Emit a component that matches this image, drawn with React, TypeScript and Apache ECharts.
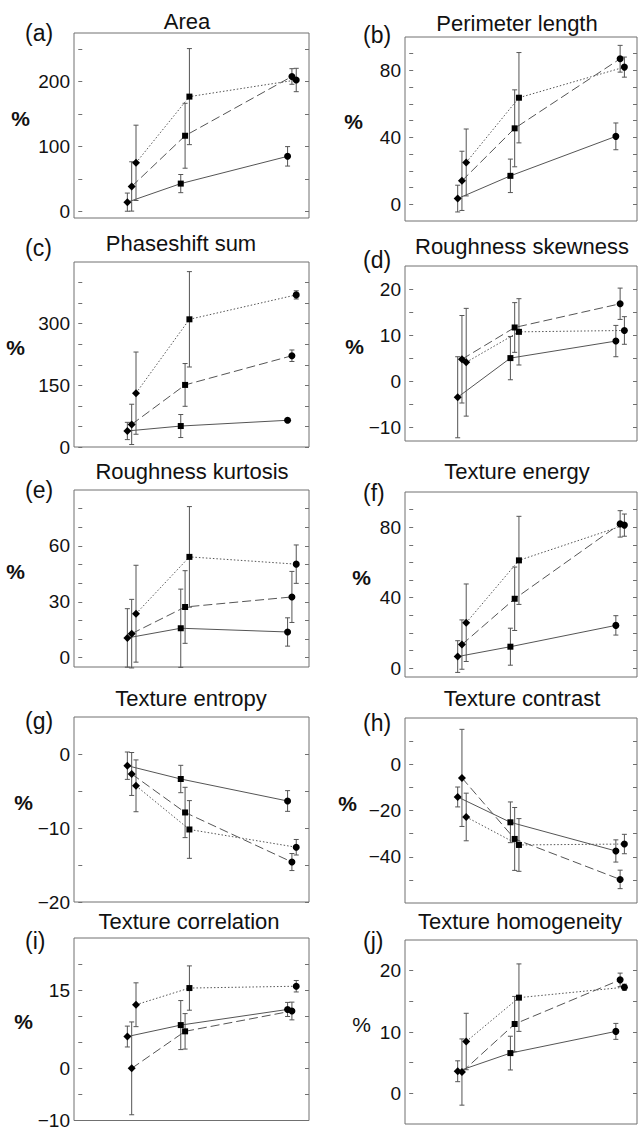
import React, { useEffect, useRef } from "react";
import * as echarts from "echarts";

// ---------- data ----------
// x positions: three time points; each series slightly offset
const groupX = [1, 2, 4];
const seriesOffset = [-0.081, 0, 0.081];

// mean[series][group], err[series][group]  (series: solid, dashed, dotted)
const areaMean = [[14.4, 43, 85], [38.6, 116.7, 208], [75, 177, 202.6]];
const areaErr = [[14, 14, 15], [38, 50, 12], [58, 74, 18]];
const areaLabels = [0, 100, 200];
const areaTicks = [0, 50, 100, 150, 200, 250];

const perimeterMean = [[3.4, 17, 40.6], [14, 45.4, 87], [25, 63.7, 82]];
const perimeterErr = [[8, 10, 8], [17.7, 23, 8], [20, 27, 6]];
const perimeterLabels = [0, 40, 80];
const perimeterTicks = [0, 10, 20, 30, 40, 50, 60, 70, 80, 90];

const phaseshiftMean = [[39, 51, 65], [55, 151, 222], [131, 310.6, 370]];
const phaseshiftErr = [[21, 28, 4], [49, 52, 14], [100, 116, 10]];
const phaseshiftLabels = [0, 150, 300];
const phaseshiftTicks = [0, 50, 100, 150, 200, 250, 300, 350, 400];

const skewnessMean = [[-3.5, 5.0, 8.7], [4.75, 11.65, 16.8], [4.1, 10.7, 11.0]];
const skewnessErr = [[8.8, 4.7, 3.4], [9.5, 5.4, 3.4], [11.7, 7.2, 3]];
const skewnessLabels = [-10, 0, 10, 20];
const skewnessTicks = [-10, -5, 0, 5, 10, 15, 20];

const kurtosisMean = [[10.6, 15.8, 13.8], [12.9, 27.2, 32.6], [23.6, 54.1, 50.2]];
const kurtosisErr = [[15.7, 21, 7.6], [18.4, 19.5, 13.7], [26, 27, 10.3]];
const kurtosisLabels = [0, 30, 60];
const kurtosisTicks = [0, 10, 20, 30, 40, 50, 60, 70, 80];

const energyMean = [[6.6, 12.2, 24.3], [13.4, 39.4, 81.9], [25.8, 61.2, 81.2]];
const energyErr = [[9, 10.5, 5.5], [14, 18, 7.5], [22, 25, 6.3]];
const energyLabels = [0, 40, 80];
const energyTicks = [0, 10, 20, 30, 40, 50, 60, 70, 80, 90];

const entropyMean = [[-1.58, -3.38, -6.35], [-2.7, -7.9, -14.6], [-4.3, -10.2, -12.6]];
const entropyErr = [[1.85, 1.85, 1.4], [2.9, 3.4, 1.15], [3.5, 3.9, 1.05]];
const entropyLabels = [-20, -10, 0];
const entropyTicks = [-20, -15, -10, -5, 0];

const contrastMean = [[-14.15, -25.1, -37.5], [-5.9, -32.3, -49.8], [-22.8, -34.9, -34.5]];
const contrastErr = [[4.3, 8.8, 4.8], [21, 13.6, 4], [10.3, 11.4, 4.2]];
const contrastLabels = [-40, -20, 0];
const contrastTicks = [-50, -40, -30, -20, -10, 0, 10];

const correlationMean = [[6.1, 8.3, 11.3], [0, 7.1, 11.0], [12.2, 15.4, 15.75]];
const correlationErr = [[2, 4.7, 1.35], [8.9, 3.4, 1.7], [4.2, 4.25, 1.1]];
const correlationLabels = [-10, 0, 15];
const correlationTicks = [-10, -5, 0, 5, 10, 15, 20];

const homogeneityMean = [[3.6, 6.56, 10.1], [3.47, 11.3, 18.5], [8.45, 15.6, 17.3]];
const homogeneityErr = [[1.7, 2.75, 1.3], [5.4, 4.5, 1.1], [4.6, 5.5, 0.5]];
const homogeneityLabels = [0, 10, 20];
const homogeneityTicks = [0, 5, 10, 15, 20];

const titles = [
  "Area", "Perimeter length", "Phaseshift sum", "Roughness skewness", "Roughness kurtosis",
  "Texture energy", "Texture entropy", "Texture contrast", "Texture correlation", "Texture homogeneity",
];
const letters = ["(a)", "(b)", "(c)", "(d)", "(e)", "(f)", "(g)", "(h)", "(i)", "(j)"];

// ---------- layout ----------
const FONT = "'Liberation Sans', Arial, Helvetica, sans-serif";
const L = { left: 74, width: 235, letterX: 25 };
const R = { left: 405, width: 232, letterX: 363 };

const panels = [
  { col: L, top: 33, height: 185, min: -10, max: 275, mean: areaMean, err: areaErr, labels: areaLabels, ticks: areaTicks, nameGap: 44, tx: 187, ty: 13, ly: 33, bold: true },
  { col: R, top: 37, height: 184, min: -10, max: 100, mean: perimeterMean, err: perimeterErr, labels: perimeterLabels, ticks: perimeterTicks, nameGap: 42, tx: 517, ty: 15, ly: 35, bold: true },
  { col: L, top: 262, height: 185, min: 0, max: 450, mean: phaseshiftMean, err: phaseshiftErr, labels: phaseshiftLabels, ticks: phaseshiftTicks, nameGap: 49, tx: 181, ty: 235, ly: 248, bold: true },
  { col: R, top: 266, height: 175, min: -13, max: 25, mean: skewnessMean, err: skewnessErr, labels: skewnessLabels, ticks: skewnessTicks, nameGap: 32, tx: 522, ty: 238, ly: 260, bold: true },
  { col: L, top: 490, height: 177, min: -5, max: 90, mean: kurtosisMean, err: kurtosisErr, labels: kurtosisLabels, ticks: kurtosisTicks, nameGap: 49, tx: 192, ty: 463, ly: 490, bold: true },
  { col: R, top: 492, height: 185, min: -5, max: 100, mean: energyMean, err: energyErr, labels: energyLabels, ticks: energyTicks, nameGap: 34, tx: 517, ty: 463, ly: 493, bold: true },
  { col: L, top: 717, height: 185, min: -20, max: 5, mean: entropyMean, err: entropyErr, labels: entropyLabels, ticks: entropyTicks, nameGap: 41, tx: 191, ty: 690, ly: 721, bold: true },
  { col: R, top: 718, height: 185, min: -60, max: 20, mean: contrastMean, err: contrastErr, labels: contrastLabels, ticks: contrastTicks, nameGap: 48, tx: 522, ty: 690, ly: 723, bold: true },
  { col: L, top: 938, height: 184, min: -10, max: 25, mean: correlationMean, err: correlationErr, labels: correlationLabels, ticks: correlationTicks, nameGap: 39, tx: 189, ty: 913, ly: 941, bold: true },
  { col: R, top: 940, height: 184, min: -5, max: 25, mean: homogeneityMean, err: homogeneityErr, labels: homogeneityLabels, ticks: homogeneityTicks, nameGap: 34, tx: 520, ty: 913, ly: 941, bold: false },
];

const symbols = ["diamond", "rect", "circle"];
const symbolSizes = [8, 6, 7];
const lineTypes: any[] = ["solid", [9, 4], [1.5, 2]];
const LINE_COLOR = "#555";
const BOX_COLOR = "#707070";

function buildOption() {
  const grid = panels.map((p) => ({
    left: p.col.left,
    top: p.top,
    width: p.col.width,
    height: p.height,
    show: true,
    borderColor: BOX_COLOR,
    borderWidth: 1,
    backgroundColor: "transparent",
    containLabel: false,
  }));
  const xAxis = panels.map((_, i) => ({
    type: "value",
    gridIndex: i,
    min: -0.08,
    max: 4.32,
    show: false,
  }));
  const yAxis: any[] = [];
  panels.forEach((p, i) => {
    yAxis.push({
      type: "value",
      gridIndex: i,
      min: p.min,
      max: p.max,
      position: "left",
      splitLine: { show: false },
      axisLine: { show: false },
      axisTick: { show: true, inside: true, length: 4, customValues: p.ticks, lineStyle: { color: BOX_COLOR } },
      axisLabel: {
        customValues: p.labels,
        margin: 4,
        fontSize: 19,
        color: "#111",
        fontFamily: FONT,
        formatter: (v: number) => String(v).replace("-", "\u2212"),
      },
      name: "%",
      nameLocation: "middle",
      nameRotate: 0,
      nameGap: p.nameGap,
      nameTextStyle: {
        fontSize: 21,
        fontWeight: p.bold ? "bold" : "normal",
        color: "#111",
        fontFamily: FONT,
        verticalAlign: "bottom",
        lineHeight: 15,
      },
    });
    yAxis.push({
      type: "value",
      gridIndex: i,
      min: p.min,
      max: p.max,
      position: "right",
      splitLine: { show: false },
      axisLine: { show: false },
      axisLabel: { show: false },
      axisTick: { show: true, inside: true, length: 4, customValues: p.ticks, lineStyle: { color: BOX_COLOR } },
    });
  });

  const series: any[] = [];
  panels.forEach((p, i) => {
    const errData: number[][] = [];
    p.mean.forEach((vals, s) => {
      series.push({
        type: "line",
        xAxisIndex: i,
        yAxisIndex: 2 * i,
        silent: true,
        z: 3,
        lineStyle: { color: LINE_COLOR, width: 1, type: lineTypes[s] },
        itemStyle: { color: "#000" },
        showSymbol: true,
        data: vals.map((v, g) => ({
          value: [groupX[g] + seriesOffset[s], v],
          symbol: symbols[g],
          symbolSize: symbolSizes[g],
        })),
      });
      vals.forEach((v, g) => {
        const e = p.err[s][g];
        errData.push([groupX[g] + seriesOffset[s], v - e, v + e]);
      });
    });
    series.push({
      type: "custom",
      xAxisIndex: i,
      yAxisIndex: 2 * i,
      silent: true,
      z: 2,
      encode: { x: 0, y: [1, 2] },
      data: errData,
      renderItem: (params: any, api: any) => {
        const x = api.value(0);
        const p1 = api.coord([x, api.value(1)]);
        const p2 = api.coord([x, api.value(2)]);
        const cw = 2.5;
        const style = { stroke: LINE_COLOR, lineWidth: 1, fill: "none" };
        return {
          type: "group",
          children: [
            { type: "line", shape: { x1: p1[0], y1: p1[1], x2: p2[0], y2: p2[1] }, style },
            { type: "line", shape: { x1: p1[0] - cw, y1: p1[1], x2: p1[0] + cw, y2: p1[1] }, style },
            { type: "line", shape: { x1: p2[0] - cw, y1: p2[1], x2: p2[0] + cw, y2: p2[1] }, style },
          ],
        };
      },
    });
  });

  const title = panels.map((p, i) => ({
    text: titles[i],
    left: p.tx,
    top: p.ty - 3,
    textAlign: "center",
    padding: 0,
    textStyle: { fontSize: 22, fontWeight: "normal", color: "#111", fontFamily: FONT },
  }));

  const graphic = panels.map((p, i) => ({
    type: "text",
    x: p.col.letterX,
    y: p.ly,
    style: {
      text: letters[i],
      fontSize: 23,
      fontFamily: FONT,
      fill: "#111",
      textAlign: "left",
      textVerticalAlign: "middle",
    },
  }));

  return {
    animation: false,
    backgroundColor: "#fff",
    title,
    grid,
    xAxis,
    yAxis,
    series,
    graphic,
  };
}

export default function App() {
  const ref = useRef<HTMLDivElement>(null);
  useEffect(() => {
    if (!ref.current) return;
    const chart = echarts.init(ref.current, undefined, { renderer: "svg" });
    chart.setOption(buildOption() as any);
    return () => chart.dispose();
  }, []);
  return (
    <div
      ref={ref}
      style={{ position: "absolute", left: 0, top: 0, width: 639, height: 1130, background: "#fff" }}
    />
  );
}
